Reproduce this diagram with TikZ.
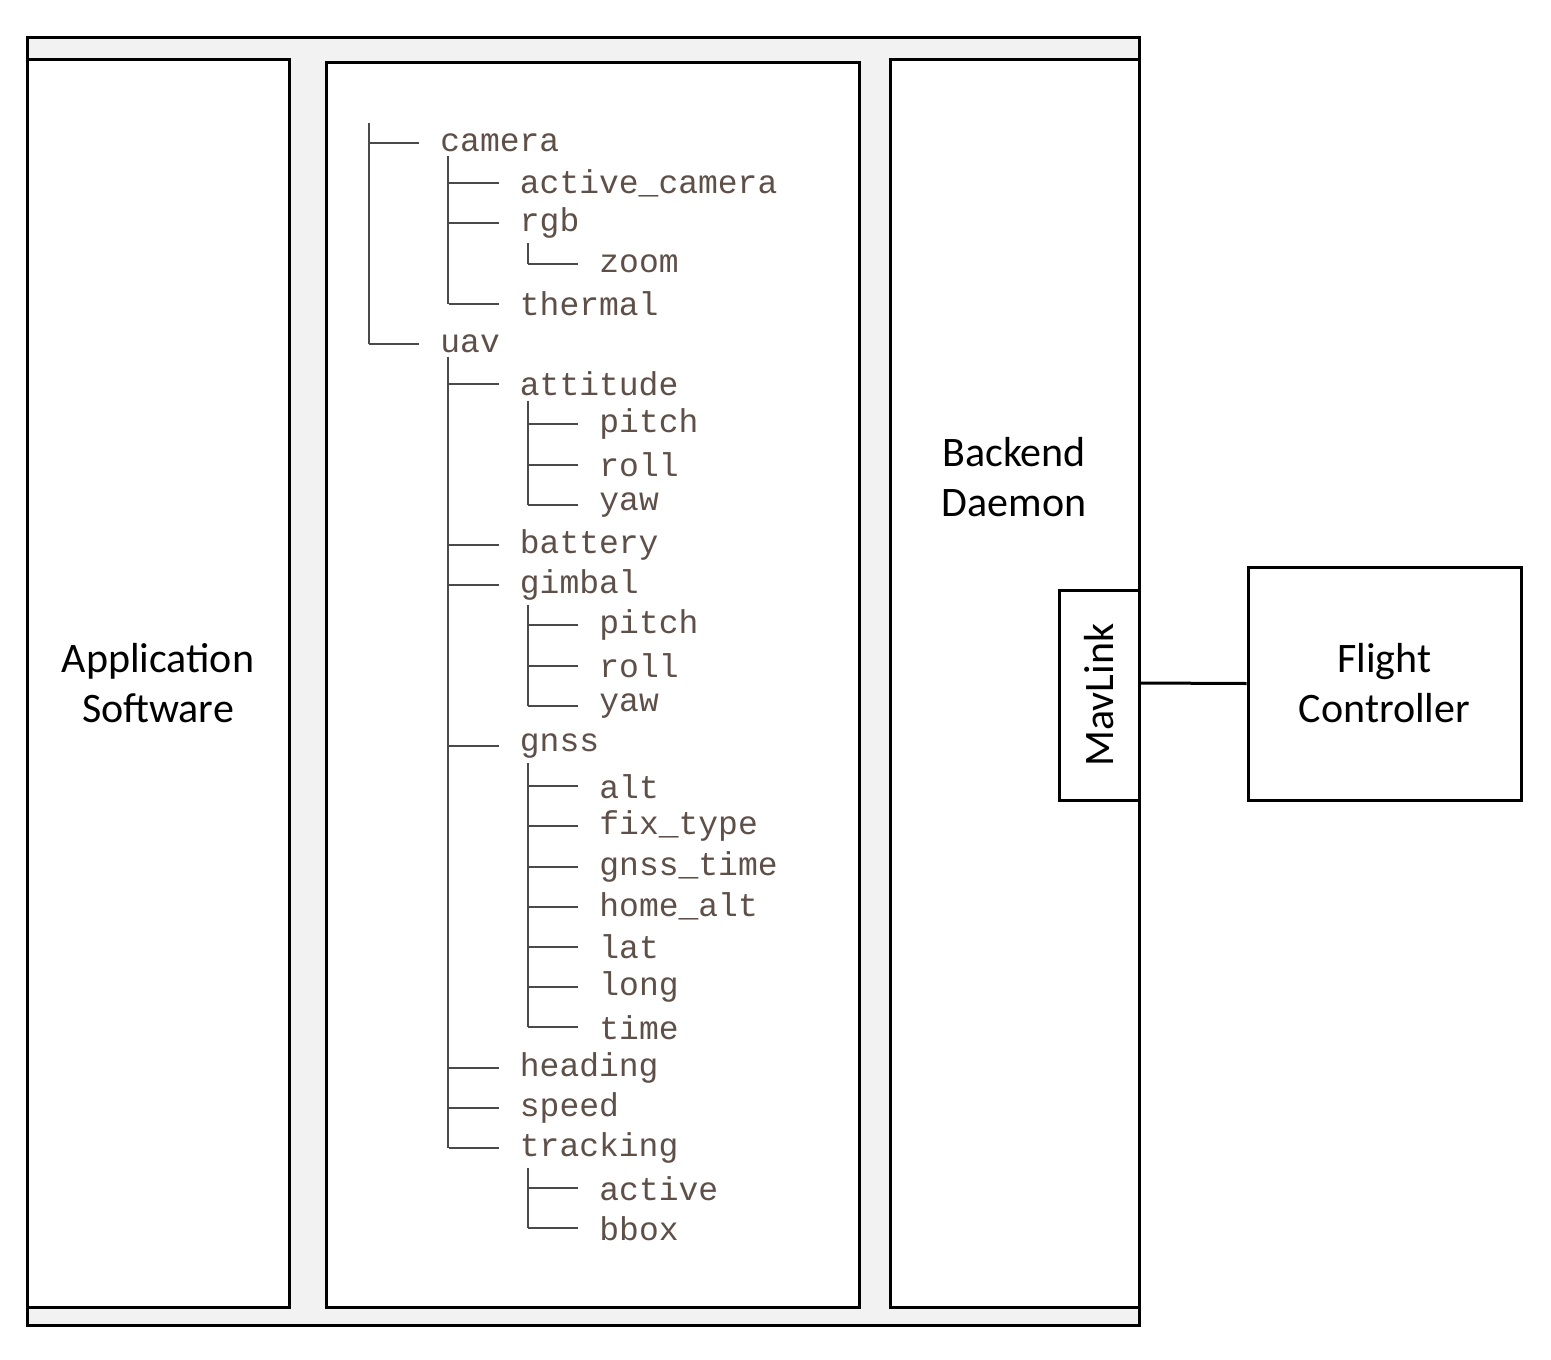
\documentclass[tikz,border=0pt]{standalone}
\usepackage{fontspec}
\setmainfont{Carlito}
\newfontfamily\treefont{Liberation Mono}
\usetikzlibrary{positioning}
\definecolor{framegray}{HTML}{F2F2F2}
\definecolor{treeink}{HTML}{5E5048}
\definecolor{treeline}{HTML}{4A4A4A}
\tikzset{panel/.style={draw=black, line width=1.5pt, fill=white},
         label/.style={font=\fontsize{21}{25}\selectfont, align=center},
         item/.style={anchor=west, inner sep=0pt, text=treeink, font=\treefont\fontsize{16.5}{18}\selectfont},
         branch/.style={draw=treeline, line width=1pt}}
\begin{document}
\begin{tikzpicture}[x=0.5pt, y=-0.5pt]
\useasboundingbox (0,0) rectangle (1551,1359);
% frame and panels
\draw[line width=1.5pt, fill=framegray] (27,38) rectangle (1139,1325);
\draw[panel] (27,60) rectangle (289,1307);
\draw[panel] (326,63) rectangle (859,1307);
\draw[panel] (890,60) rectangle (1139,1307);
\node[label] (app) at (158,683) {Application\\Software};
\node[label] (backend) at (1014,477) {Backend\\Daemon};
\node[panel, minimum width=40pt, minimum height=105pt, inner sep=0pt] (mav) at (1099,695) {};
\node[label, rotate=90] (mavtxt) at (mav) {MavLink};
\node[panel, minimum width=136.5pt, minimum height=116.5pt, inner sep=0pt] (fc) at (1384.5,683.5) {};
\node[label] (fctxt) at (fc) {Flight\\Controller};
\draw[line width=1.5pt] (1139,683) -- (fc.west);
% tree
\foreach \r/\l/\t in {0/0/camera, 1/1/active\_camera, 2/1/rgb, 3/2/zoom, 4/1/thermal,
    5/0/uav, 6/1/attitude, 7/2/pitch, 8/2/roll, 9/2/yaw, 10/1/battery, 11/1/gimbal,
    12/2/pitch, 13/2/roll, 14/2/yaw, 15/1/gnss, 16/2/alt, 17/2/fix\_type, 18/2/gnss\_time,
    19/2/home\_alt, 20/2/lat, 21/2/long, 22/2/time, 23/1/heading, 24/1/speed,
    25/1/tracking, 26/2/active, 27/2/bbox}{
  \coordinate (h\r) at (369+79.5*\l, 143+40.2*\r);
  \node[item] (n\r) at (440+79.5*\l, 143+40.2*\r) {\t};
  \draw[branch] (h\r) -- ++(50,0);
}
\coordinate (top) at (369,123);
\draw[branch] (top) -- (h5);
\foreach \p/\q in {0/4, 2/3, 5/25, 6/9, 11/14, 15/22, 25/27}{
  \draw[branch] (n\p.south west) ++(8,4) coordinate (v\p) -- (v\p |- h\q);
}
\end{tikzpicture}
\end{document}
